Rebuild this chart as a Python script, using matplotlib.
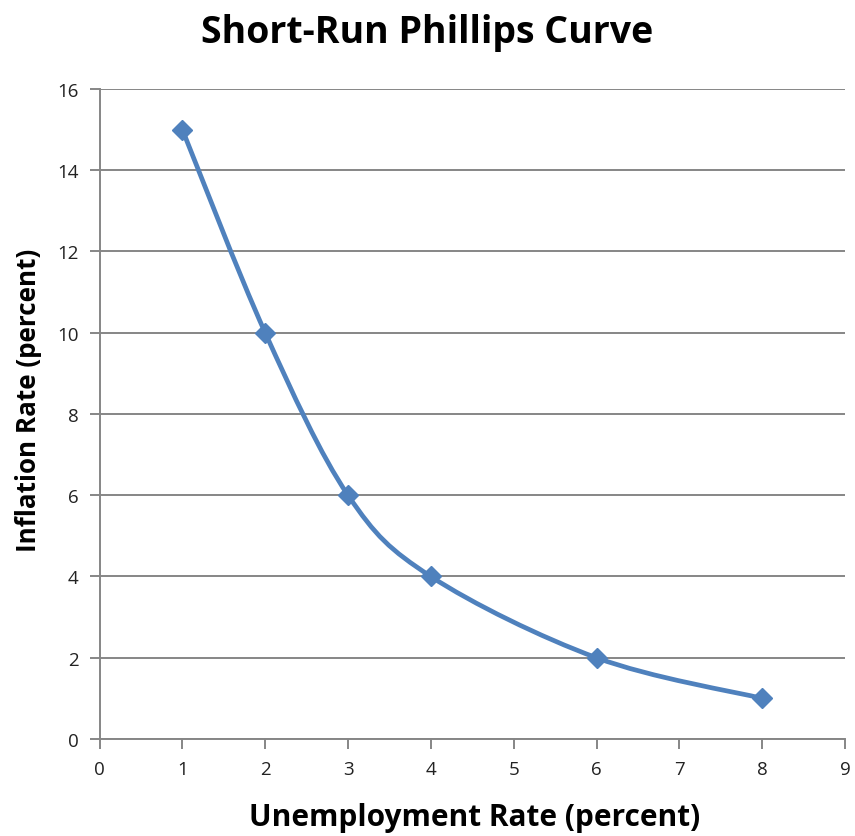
import numpy as np
import matplotlib.pyplot as plt
from matplotlib.path import Path
from matplotlib.patches import PathPatch

# Short-run Phillips curve data
unemployment = [1, 2, 3, 4, 6, 8]
inflation = [15, 10, 6, 4, 2, 1]

x_ticks = list(range(0, 10))
y_ticks = list(range(0, 17, 2))

LINE_COLOR = '#4F81BD'
GRID_COLOR = '#868686'


def smooth_path(xs, ys):
    # Catmull-Rom style cubic Bezier through every point (spreadsheet "smoothed line")
    pts = np.column_stack([xs, ys]).astype(float)
    n = len(pts)
    verts = [pts[0]]
    codes = [Path.MOVETO]
    for i in range(n - 1):
        p0 = pts[i - 1] if i > 0 else pts[i]
        p1 = pts[i]
        p2 = pts[i + 1]
        p3 = pts[i + 2] if i + 2 < n else pts[i + 1]
        c1 = p1 + (p2 - p0) / 6.0
        c2 = p2 - (p3 - p1) / 6.0
        verts += [c1, c2, p2]
        codes += [Path.CURVE4] * 3
    return Path(verts, codes)


def main():
    plt.rcParams['font.family'] = ['Open Sans', 'DejaVu Sans']

    fig = plt.figure(figsize=(8.55, 8.37), dpi=100)
    ax = fig.add_axes([0.1164, 0.1159, 0.8719, 0.7766])

    ax.set_xlim(0, 9)
    ax.set_ylim(0, 16)
    ax.set_xticks(x_ticks)
    ax.set_yticks(y_ticks)

    ax.yaxis.grid(True, color=GRID_COLOR, linewidth=1.4)
    ax.set_axisbelow(True)
    for side in ('top', 'right'):
        ax.spines[side].set_visible(False)
    for side in ('left', 'bottom'):
        ax.spines[side].set_color(GRID_COLOR)
        ax.spines[side].set_linewidth(1.4)
    ax.tick_params(direction='out', length=7, width=1.4, color=GRID_COLOR,
                   labelsize=13.5, labelcolor='#222222', pad=8)

    curve = PathPatch(smooth_path(unemployment, inflation), facecolor='none',
                      edgecolor=LINE_COLOR, linewidth=3.4, capstyle='round',
                      joinstyle='round', zorder=3)
    ax.add_patch(curve)
    ax.plot(unemployment, inflation, linestyle='none', marker='D',
            markersize=10, color=LINE_COLOR, zorder=4, clip_on=False)

    fig.text(0.5, 0.960, 'Short-Run Phillips Curve', ha='center', va='center',
             fontsize=27, fontweight='bold')
    fig.text(0.555, 1 - 818 / 837, 'Unemployment Rate (percent)', ha='center',
             va='center', fontsize=21.5, fontweight='bold')
    fig.text(28 / 855, 1 - 400 / 837, 'Inflation Rate (percent)', ha='center',
             va='center', rotation=90, fontsize=18.7, fontweight='bold')

    fig.savefig('out.png', dpi=100, facecolor='white')


if __name__ == '__main__':
    main()
